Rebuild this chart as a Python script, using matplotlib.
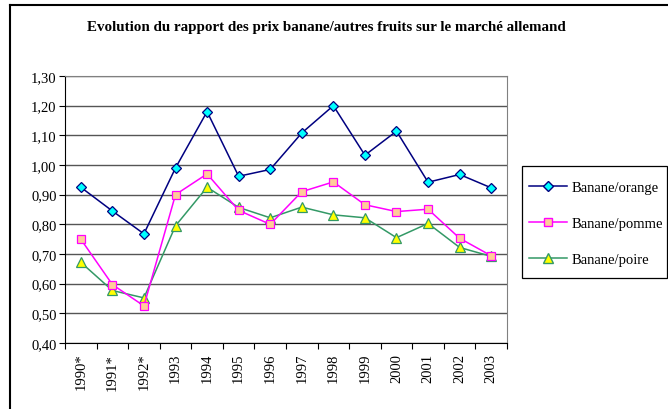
import matplotlib.pyplot as plt
from matplotlib.lines import Line2D
from matplotlib.patches import Rectangle
from matplotlib.ticker import FixedLocator, FuncFormatter

years = ['1990*', '1991*', '1992*', '1993', '1994', '1995', '1996',
         '1997', '1998', '1999', '2000', '2001', '2002', '2003']
orange = [0.925, 0.845, 0.768, 0.99, 1.18, 0.962, 0.985,
          1.108, 1.20, 1.033, 1.114, 0.942, 0.968, 0.923]
pomme = [0.75, 0.597, 0.525, 0.90, 0.97, 0.847, 0.80,
         0.91, 0.943, 0.866, 0.843, 0.851, 0.753, 0.694]
poire = [0.672, 0.577, 0.552, 0.795, 0.925, 0.857, 0.822,
         0.858, 0.832, 0.822, 0.755, 0.803, 0.722, 0.692]
labels = ['Banane/orange', 'Banane/pomme', 'Banane/poire']

plt.rcParams['font.family'] = ['Liberation Serif', 'DejaVu Serif']

W, H = 668, 410
fig = plt.figure(figsize=(W / 100, H / 100), dpi=100)
ax = fig.add_axes([65 / W, 66 / H, 442 / W, 267 / H])

x = list(range(len(years)))
ax.plot(x, orange, color='#000080', lw=1.1, marker='D', ms=5.5,
        mfc='#00FFFF', mec='#000080', mew=0.9, label=labels[0], zorder=5)
ax.plot(x, pomme, color='#FF00FF', lw=1.1, marker='s', ms=6,
        mfc='#FFCC99', mec='#FF00FF', mew=0.9, label=labels[1], zorder=4)
ax.plot(x, poire, color='#339966', lw=1.1, marker='^', ms=6.5,
        mfc='#FFFF00', mec='#339966', mew=0.9, label=labels[2], zorder=3)

ax.set_xlim(-0.5, len(years) - 0.5)
ax.set_ylim(0.40, 1.30)
ax.yaxis.set_major_locator(FixedLocator([0.4 + 0.1 * i for i in range(10)]))
ax.yaxis.set_major_formatter(FuncFormatter(lambda v, p: f'{v:.2f}'.replace('.', ',')))
ax.grid(axis='y', color='#555555', lw=1.0)
ax.set_axisbelow(True)

# category ticks sit between the points, labels under the points
ax.set_xticks([i - 0.5 for i in range(len(years) + 1)])
ax.set_xticklabels([])
ax.set_xticks(x, minor=True)
ax.set_xticklabels(years, minor=True, rotation=90, fontsize=10.5)
ax.tick_params(axis='x', which='minor', length=0, pad=7)
ax.tick_params(axis='x', which='major', length=4, color='black')
ax.tick_params(axis='y', length=4, labelsize=10.5, pad=2)

for side in ['left', 'right', 'top']:
    ax.spines[side].set_color('#808080')
ax.spines['left'].set_color('black')
ax.spines['bottom'].set_color('black')

fig.text(326 / W, 0.933, 'Evolution du rapport des prix banane/autres fruits sur le marché allemand',
         ha='center', va='center', fontsize=10.8, fontweight='bold')

# legend entries, with a separate box drawn around them
handles = [Line2D([], [], color=l.get_color(), lw=1.1, marker=l.get_marker(),
                  ms=l.get_markersize(), mfc=l.get_mfc(), mec=l.get_mec())
           for l in ax.get_lines()]
fig.legend(handles, labels, loc='upper left',
           bbox_to_anchor=(529 / W, 1 - 182 / H),
           frameon=False, fontsize=10.5, handlelength=2.6, labelspacing=1.57,
           borderpad=0, handletextpad=0.3, borderaxespad=0)
fig.add_artist(Rectangle((522 / W, 1 - 279 / H), 145 / W, 112 / H,
                         transform=fig.transFigure, fill=False,
                         edgecolor='black', lw=0.9))

# outer frame of the chart (runs off the right and bottom edges)
fig.add_artist(Line2D([10 / W, 1.0], [1 - 5.5 / H] * 2, color='black', lw=1.5))
fig.add_artist(Line2D([10 / W] * 2, [0.0, 1 - 5.5 / H], color='black', lw=1.5))

fig.savefig('out.png', dpi=100)
